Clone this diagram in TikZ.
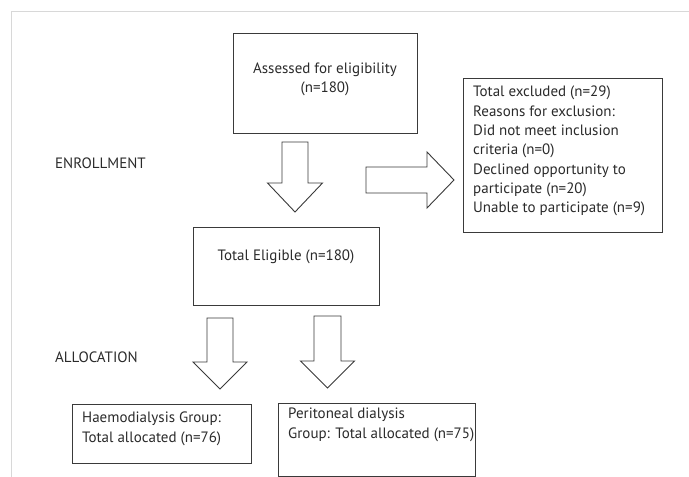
\documentclass[tikz,border=0pt]{standalone}
\usepackage{fontspec}
\setmainfont{PT Sans}
\begin{document}
\begin{tikzpicture}[x=1bp,y=-1bp,
  line/.style={draw=linec, line width=0.9bp},
  box/.style={line, rectangle, inner sep=0pt, anchor=north west},
  txt/.style={text=textc, font=\fontsize{15bp}{19.3bp}\selectfont, inner sep=0pt},
  frame/.style={draw=framec, line width=1bp}]
\definecolor{linec}{HTML}{3A3A3A}
\definecolor{textc}{HTML}{2A2A2A}
\definecolor{framec}{HTML}{D8D8D8}
\useasboundingbox (0,0) rectangle (689,477);
\newcommand\dnarrow[6]{% cx, top, headbase, tip, shafthalf, headhalf
  \draw[line,fill=white] (#1-#5,#2) -- (#1+#5,#2) -- (#1+#5,#3) -- (#1+#6,#3)
    -- (#1,#4) -- (#1-#6,#3) -- (#1-#5,#3) -- cycle;}
% frame
\draw[frame] (11,477) -- (11,12) -- (689,12);
% boxes
\node[box, minimum width=184bp, minimum height=100bp] (assess) at (233,33) {};
\node[txt, align=center] (assesst) at (325,79.5) {Assessed for eligibility\\(n=180)};
\node[box, minimum width=199bp, minimum height=154bp] (excl) at (463,78) {};
\node[txt, align=left, anchor=north west] (exclt) at (473,86) {Total excluded (n=29)\\Reasons for exclusion:\\Did not meet inclusion\\criteria (n=0)\\Declined opportunity to\\participate (n=20)\\Unable to participate (n=9)};
\node[box, minimum width=186bp, minimum height=78bp] (elig) at (193,227) {};
\node[txt] (eligt) at (286,257) {Total Eligible (n=180)};
\node[box, minimum width=179bp, minimum height=59bp] (haemo) at (72,404) {};
\node[txt, align=left, anchor=north west] (haemot) at (82,412) {Haemodialysis Group:\\Total allocated (n=76)};
\node[box, minimum width=197bp, minimum height=73bp] (perit) at (278,403) {};
\node[txt, align=left, anchor=north west] (peritt) at (288,408) {Peritoneal dialysis\\Group: Total allocated (n=75)};
% labels
\node[txt, anchor=west] (enr) at (55,163) {ENROLLMENT};
\node[txt, anchor=west] (alloc) at (55,357) {ALLOCATION};
% block arrows
\dnarrow{295}{142}{183}{212}{13}{27.5}
\dnarrow{220}{318}{362}{389}{13}{27}
\dnarrow{327.5}{316}{361}{388}{13.5}{27}
\draw[line,fill=white] (366,167) -- (427,167) -- (427,152) -- (454,180)
  -- (427,208) -- (427,193) -- (366,193) -- cycle;
\end{tikzpicture}
\end{document}
